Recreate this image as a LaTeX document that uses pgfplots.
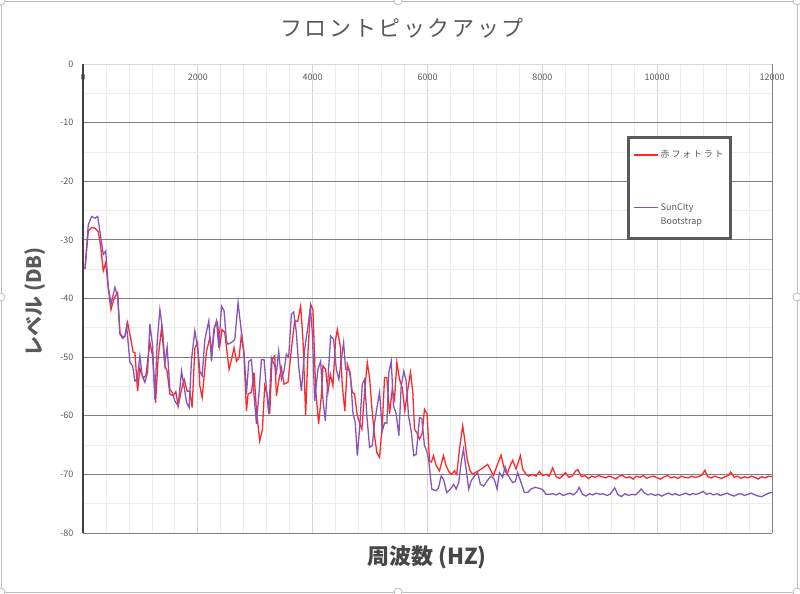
\documentclass[border=0pt]{standalone}
\usepackage{pgfplots}
\pgfplotsset{compat=1.18}
\usepackage{fontspec}
\setmainfont{Noto Sans CJK JP}
\definecolor{cred}{RGB}{255,40,40}
\definecolor{cpurple}{RGB}{135,85,185}
\definecolor{txtgray}{RGB}{89,89,89}
\definecolor{majgray}{RGB}{128,128,128}
\definecolor{mingray}{RGB}{236,236,236}
\definecolor{vmajgray}{RGB}{215,215,215}
\definecolor{framegray}{RGB}{190,190,190}

\pgfplotstableread{
hz db
35 -35.0
92 -28.5
151 -27.9
209 -28.0
266 -28.6
308 -31.1
353 -35.3
395 -33.9
440 -38.3
487 -41.9
544 -39.9
603 -39.0
643 -45.8
690 -46.6
730 -46.4
777 -44.1
830 -46.8
875 -49.2
904 -49.2
951 -55.8
991 -51.9
1049 -53.6
1096 -53.1
1165 -47.5
1212 -49.8
1264 -57.8
1309 -50.1
1369 -45.0
1426 -51.4
1466 -52.5
1513 -56.3
1570 -56.6
1617 -55.9
1657 -58.4
1716 -55.5
1762 -53.8
1814 -55.8
1861 -55.8
1901 -58.6
1948 -48.5
1995 -47.5
2035 -54.9
2075 -56.9
2151 -49.0
2209 -46.7
2249 -49.0
2295 -44.7
2342 -44.1
2382 -48.1
2422 -45.3
2469 -45.8
2544 -52.1
2586 -50.4
2631 -48.4
2673 -50.7
2718 -50.1
2760 -46.1
2805 -49.8
2847 -59.2
2875 -56.3
2934 -56.0
2979 -52.6
3021 -59.2
3078 -64.3
3125 -62.3
3165 -54.9
3212 -56.6
3252 -59.7
3292 -50.4
3339 -49.8
3369 -56.6
3408 -54.1
3455 -51.8
3501 -54.6
3570 -54.3
3629 -48.7
3687 -43.8
3739 -43.9
3791 -41.3
3831 -47.0
3878 -60.0
3918 -49.2
3965 -41.0
4005 -41.9
4052 -55.5
4104 -61.4
4151 -56.6
4179 -51.5
4226 -52.1
4266 -56.0
4307 -52.9
4353 -54.9
4400 -47.0
4429 -45.3
4481 -48.1
4516 -54.9
4561 -59.2
4603 -51.2
4643 -52.4
4690 -56.0
4730 -56.3
4777 -60.0
4817 -61.2
4857 -62.3
4904 -56.0
4951 -50.9
4991 -53.5
5038 -59.5
5078 -63.4
5118 -66.3
5165 -67.1
5212 -61.7
5252 -53.5
5292 -53.5
5339 -59.7
5386 -55.5
5426 -57.2
5466 -50.9
5513 -53.8
5560 -55.2
5605 -59.2
5657 -55.5
5704 -52.6
5744 -56.0
5774 -62.3
5814 -62.9
5861 -64.0
5907 -63.0
5947 -58.9
5994 -59.7
6034 -67.7
6069 -67.9
6104 -66.8
6151 -68.5
6209 -69.4
6278 -66.8
6323 -68.5
6382 -69.7
6422 -70.0
6469 -69.4
6509 -70.0
6556 -65.7
6613 -61.7
6643 -63.7
6690 -67.4
6742 -69.4
6788 -70.0
6847 -69.6
6904 -69.3
6979 -68.8
7048 -68.3
7090 -69.1
7147 -70.2
7212 -68.5
7281 -66.7
7339 -69.1
7386 -70.0
7431 -68.7
7483 -67.6
7542 -69.1
7617 -66.8
7657 -69.1
7716 -70.0
7761 -70.3
7831 -70.0
7890 -70.3
7948 -69.5
8005 -70.2
8064 -70.0
8121 -70.3
8180 -68.9
8240 -70.4
8300 -70.7
8360 -70.2
8400 -69.7
8460 -70.5
8520 -70.3
8580 -69.4
8620 -69.2
8680 -70.4
8740 -70.2
8800 -70.7
8860 -70.3
8920 -70.5
8980 -70.2
9040 -70.4
9100 -70.6
9160 -70.3
9220 -70.5
9280 -70.8
9340 -70.3
9400 -70.2
9460 -70.6
9520 -70.4
9580 -70.8
9640 -70.3
9700 -70.5
9760 -70.2
9820 -70.7
9880 -70.4
9940 -70.3
10000 -70.6
10060 -70.8
10120 -70.4
10180 -70.2
10240 -70.6
10300 -70.4
10360 -70.7
10420 -70.3
10480 -70.5
10540 -70.6
10600 -70.3
10660 -70.5
10720 -70.4
10780 -70.1
10830 -69.3
10880 -70.4
10940 -70.6
11000 -70.3
11060 -70.5
11120 -70.7
11180 -70.4
11240 -70.2
11280 -69.6
11340 -70.5
11400 -70.3
11460 -70.7
11520 -70.4
11580 -70.6
11640 -70.3
11700 -70.5
11760 -70.8
11820 -70.4
11880 -70.6
11940 -70.3
12000 -70.4
}\redtable

\pgfplotstableread{
hz db
35 -35.0
92 -27.4
151 -26.0
209 -26.3
255 -26.0
308 -29.4
353 -32.5
395 -31.9
440 -37.9
487 -41.0
556 -38.1
603 -39.6
643 -46.1
690 -46.8
730 -46.5
760 -44.7
817 -50.9
864 -51.5
904 -54.1
944 -53.8
991 -49.8
1031 -53.2
1078 -54.3
1125 -52.6
1165 -44.4
1212 -48.1
1252 -57.2
1292 -47.5
1339 -41.9
1386 -45.3
1426 -51.1
1466 -48.3
1513 -55.5
1560 -56.1
1600 -57.5
1657 -58.3
1716 -52.4
1760 -55.0
1803 -57.7
1849 -58.6
1890 -50.4
1948 -45.5
2005 -49.0
2035 -52.4
2075 -53.2
2122 -47.0
2191 -43.8
2238 -50.7
2278 -45.3
2325 -43.8
2365 -48.4
2412 -41.3
2457 -42.1
2499 -47.3
2527 -47.8
2586 -47.5
2643 -47.0
2701 -40.7
2760 -45.8
2805 -49.2
2847 -56.3
2887 -50.7
2934 -50.4
2979 -56.6
3021 -61.4
3066 -56.0
3108 -50.4
3153 -50.4
3195 -55.5
3235 -59.7
3281 -50.1
3327 -51.2
3369 -52.6
3408 -49.0
3455 -53.8
3501 -52.4
3542 -49.5
3582 -50.0
3629 -42.7
3669 -42.3
3716 -45.8
3756 -51.5
3803 -55.8
3861 -48.7
3918 -44.7
3960 -41.5
3995 -46.0
4035 -57.5
4092 -52.1
4139 -50.7
4179 -57.2
4220 -60.9
4266 -53.8
4313 -46.4
4365 -47.0
4412 -52.1
4457 -53.8
4499 -50.4
4539 -47.5
4574 -52.1
4614 -52.1
4655 -52.6
4701 -59.5
4742 -61.2
4777 -66.8
4817 -62.3
4864 -54.6
4904 -53.8
4944 -60.0
4991 -65.4
5038 -65.1
5078 -61.2
5125 -58.3
5165 -56.0
5212 -62.6
5252 -61.2
5292 -61.3
5327 -52.6
5368 -50.7
5408 -58.3
5455 -59.7
5501 -63.4
5542 -54.9
5587 -52.4
5629 -54.1
5669 -60.0
5716 -62.6
5761 -66.8
5803 -66.6
5861 -60.3
5901 -60.5
5947 -65.1
5987 -66.0
6022 -67.7
6074 -72.5
6151 -72.8
6191 -72.3
6238 -70.3
6278 -70.8
6335 -73.1
6400 -72.5
6457 -71.7
6499 -72.5
6544 -71.4
6586 -68.0
6626 -65.7
6672 -69.1
6718 -72.5
6760 -71.1
6817 -70.3
6874 -69.7
6921 -71.7
6979 -72.0
7038 -71.1
7107 -70.3
7160 -70.8
7212 -72.5
7252 -69.7
7309 -70.5
7351 -68.7
7396 -70.0
7443 -70.8
7483 -71.4
7530 -71.2
7570 -69.7
7629 -71.4
7687 -73.1
7744 -73.1
7803 -72.5
7878 -72.2
7948 -72.4
8005 -72.6
8064 -73.4
8121 -73.4
8180 -73.3
8240 -73.5
8300 -73.2
8360 -73.6
8420 -73.4
8480 -73.2
8540 -73.5
8600 -73.0
8640 -72.2
8700 -73.4
8760 -73.7
8820 -73.3
8880 -73.5
8940 -73.2
9000 -73.4
9060 -73.3
9120 -73.6
9180 -73.4
9260 -72.3
9320 -73.5
9380 -73.8
9440 -73.3
9500 -73.6
9560 -73.4
9620 -73.5
9680 -73.0
9720 -72.5
9780 -73.2
9840 -73.5
9900 -73.3
9960 -73.6
10020 -73.4
10080 -73.7
10140 -73.4
10200 -73.2
10260 -73.5
10320 -73.3
10380 -73.6
10440 -73.4
10500 -73.2
10560 -73.5
10620 -73.3
10680 -73.4
10740 -73.2
10800 -72.9
10860 -73.4
10920 -73.2
10980 -73.5
11040 -73.3
11100 -73.6
11160 -73.4
11220 -73.2
11280 -73.5
11340 -73.7
11400 -73.4
11460 -73.3
11520 -73.6
11580 -73.4
11640 -73.2
11700 -73.5
11760 -73.7
11820 -73.8
11880 -73.5
11940 -73.2
12000 -73.1
}\purpletable

\begin{document}
\begin{tikzpicture}[x=1bp,y=1bp]
\path[use as bounding box] (0,0) rectangle (800,594);
\draw[framegray, line width=0.8bp] (1,2) rectangle (797,593);
\foreach \p in {(1,593),(398,593),(797,593),(1,297),(797,297),(1,2),(398,2),(797,2)}
  \draw[framegray, fill=white, line width=0.8bp] \p circle (4);
\node[text=txtgray, font=\fontsize{22bp}{26bp}\selectfont\addfontfeatures{LetterSpace=12}] at (402,566) {フロントピックアップ};
\node[text=txtgray, font=\fontsize{20bp}{24bp}\selectfont\bfseries, rotate=90] at (35,292) {レベル (DB)};
\node[text=txtgray!80!black, font=\fontsize{22bp}{26bp}\selectfont\bfseries] at (427,37) {周波数 (HZ)};
\begin{axis}[
  at={(83bp,61bp)}, anchor=south west,
  width=689bp, height=469bp, scale only axis,
  xmin=0, xmax=12000, ymin=-80, ymax=0,
  axis line style={draw=none},
  xtick={0,2000,...,12000},
  xticklabels={0,2000,4000,6000,8000,10000,12000},
  minor x tick num=4,
  ytick={-80,-70,...,-10},
  yticklabels={-80,-70,-60,-50,-40,-30,-20,-10},
  extra y ticks={0}, extra y tick labels={0}, extra y tick style={grid=none},
  minor ytick={-75,-65,...,-5},
  xmajorgrids, xminorgrids, ymajorgrids, yminorgrids,
  major x grid style={draw=vmajgray, line width=0.8bp},
  minor x grid style={draw=mingray, line width=0.8bp},
  major y grid style={draw=majgray, line width=0.9bp},
  minor y grid style={draw=mingray, line width=0.8bp},
  major tick length=0, minor tick length=0,
  xticklabel pos=upper,
  xticklabel style={anchor=north, yshift=-6bp, font=\fontsize{9bp}{10bp}\selectfont, text=txtgray},
  yticklabel style={xshift=-6bp, font=\fontsize{9bp}{10bp}\selectfont, text=txtgray},
  scaled x ticks=false,
  legend style={at={(rel axis cs:0.7896,0.8465)}, anchor=north west,
    draw=txtgray, line width=2.6bp, fill=white,
    font=\fontsize{9bp}{14bp}\selectfont, text=txtgray,
    cells={anchor=west, align=left}, inner xsep=5bp, inner ysep=11bp, row sep=40bp},
  legend image code/.code={\draw[#1, line width=1.4bp] (0bp,0bp) -- (24bp,0bp);},
  clip=false,
]
\addplot[color=cred, line width=1.3bp, mark=none] table[x=hz, y=db] {\redtable};
\addlegendentry{\addfontfeatures{LetterSpace=20}赤フォトラト}
\addplot[color=cpurple, line width=1.3bp, mark=none, legend image post style={yshift=7bp}] table[x=hz, y=db] {\purpletable};
\addlegendentry{SunCIty\\Bootstrap}
\draw[vmajgray, line width=0.9bp] (axis cs:0,0) -- (axis cs:12000,0);
\draw[majgray, line width=0.9bp] (axis cs:12000,0) -- (axis cs:12000,-80);
\draw[black!75, line width=1.3bp] (axis cs:0,0) -- (axis cs:0,-80);
\end{axis}
\end{tikzpicture}
\end{document}
